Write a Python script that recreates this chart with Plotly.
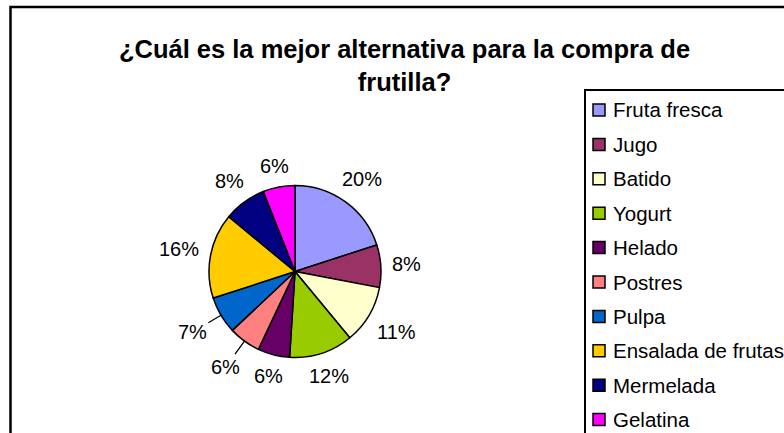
import math
import plotly.graph_objects as go

# Survey answers: preferred use when buying strawberries (percent)
categories = ["Fruta fresca", "Jugo", "Batido", "Yogurt", "Helado", "Postres",
              "Pulpa", "Ensalada de frutas", "Mermelada", "Gelatina"]
shares = [20, 8, 11, 12, 6, 6, 7, 16, 8, 6]
colors = ["#9999FF", "#993366", "#FFFFCC", "#99CC00", "#660066", "#FF8080",
          "#0066CC", "#FFCC00", "#000080", "#FF00FF"]
# slices whose value label is pulled out with a leader line
leader = [False, False, False, False, False, True, True, False, False, False]

W, H = 784, 433
FONT = "Liberation Sans, Arial, sans-serif"

# pie geometry in pixels
CX, CY, R = 295.0, 271.5, 86.0
LABEL_SIZE = 20
GAP = 11

# legend block geometry in pixels
LEG_LEFT, LEG_TOP = 585, 90
SW_X, SW_SIZE = 593, 12
TXT_X = 611
ROW0, ROW_STEP = 110, 34.4
LEG_SIZE = 20.5


def px(x):
    return x / W


def py(y):
    return 1 - y / H


fig = go.Figure()

fig.add_trace(go.Pie(
    labels=categories,
    values=shares,
    sort=False,
    direction="clockwise",
    rotation=0,
    marker=dict(colors=colors, line=dict(color="black", width=1.5)),
    textinfo="none",
    hoverinfo="label+percent",
    showlegend=False,
    domain=dict(x=[px(CX - R), px(CX + R)], y=[py(CY + R), py(CY - R)]),
))

annotations = []
shapes = [
    # chart area frame
    dict(type="rect", xref="paper", yref="paper",
         x0=px(10.5), x1=1.2, y0=-0.2, y1=py(7),
         line=dict(color="black", width=2.5), fillcolor="rgba(0,0,0,0)"),
    # legend frame
    dict(type="rect", xref="paper", yref="paper",
         x0=px(LEG_LEFT), x1=1.2, y0=-0.2, y1=py(LEG_TOP),
         line=dict(color="black", width=2), fillcolor="rgba(0,0,0,0)"),
]

# value labels placed just outside each slice
total = sum(shares)
cum = 0.0
for val, lead in zip(shares, leader):
    mid = (cum + val / 2) / total * 2 * math.pi
    cum += val
    ux, uy = math.sin(mid), -math.cos(mid)
    txt = f"{round(100 * val / total)}%"
    ndig = len(txt) - 1
    w = LABEL_SIZE * (0.556 * ndig + 0.889)
    h = 15
    d = R + GAP + abs(ux) * w / 2 + abs(uy) * h / 2
    if lead:
        d += 6
    lx, ly = CX + ux * d, CY + uy * d
    font = dict(family=FONT, size=LABEL_SIZE, color="black")
    if lead:
        ex, ey = CX + ux * R, CY + uy * R
        annotations.append(dict(
            x=px(ex), y=py(ey), xref="paper", yref="paper",
            text=txt, showarrow=True, arrowhead=0, arrowwidth=1.3,
            arrowcolor="black", ax=lx - ex, ay=ly - ey, standoff=0,
            font=font,
        ))
    else:
        annotations.append(dict(
            x=px(lx), y=py(ly), xref="paper", yref="paper",
            text=txt, showarrow=False, xanchor="center", yanchor="middle",
            font=font,
        ))

# legend rows: swatch + category name
for i, (name, col) in enumerate(zip(categories, colors)):
    yc = ROW0 + i * ROW_STEP
    shapes.append(dict(
        type="rect", xref="paper", yref="paper",
        x0=px(SW_X), x1=px(SW_X + SW_SIZE),
        y0=py(yc + SW_SIZE / 2), y1=py(yc - SW_SIZE / 2),
        fillcolor=col, line=dict(color="black", width=1.5),
    ))
    annotations.append(dict(
        x=px(TXT_X), y=py(yc), xref="paper", yref="paper",
        text=name, showarrow=False, xanchor="left", yanchor="middle",
        font=dict(family=FONT, size=LEG_SIZE, color="black"),
    ))

fig.update_layout(
    width=W, height=H,
    margin=dict(l=0, r=0, t=0, b=0),
    paper_bgcolor="white",
    plot_bgcolor="white",
    showlegend=False,
    title=dict(
        text="¿Cuál es la mejor alternativa para la compra de<br>frutilla?",
        x=px(404.5), xanchor="center", xref="paper",
        y=py(57.5), yanchor="middle", yref="container",
        font=dict(family=FONT, size=25.5, color="black", weight="bold"),
    ),
    annotations=annotations,
    shapes=shapes,
)

fig.write_html("out.html")
